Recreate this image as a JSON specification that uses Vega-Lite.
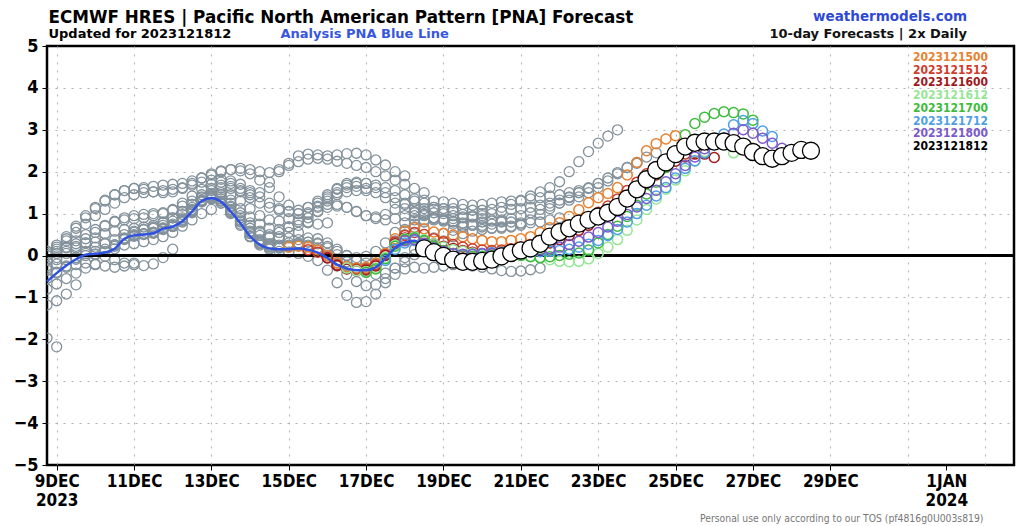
{
"$schema":"https://vega.github.io/schema/vega-lite/v6.json",
"width":967,"height":419,
"autosize":"none",
"padding":{"left":47,"top":46,"right":10,"bottom":61},
"background":"white",
"config":{"view":{"stroke":"#000","strokeWidth":2.5},"font":"DejaVu Sans"},
"title":{"text":"weathermodels.com","subtitle":"10-day Forecasts | 2x Daily","anchor":"end","frame":"group","dx":-47,"offset":-32,"font":"DejaVu Sans","fontSize":13.5,"fontWeight":"bold","color":"#2f49d6","subtitleFont":"DejaVu Sans","subtitleFontSize":13,"subtitleFontWeight":"bold","subtitleColor":"#111","subtitlePadding":5},
"datasets":{
"grey":[
{"t":"2023120818","v":-1.97},{"t":"2023120900","v":-2.18},
{"t":"2023120818","v":-1.18},{"t":"2023120900","v":-1.08},{"t":"2023120906","v":-0.92},{"t":"2023120912","v":-0.7},
{"t":"2023120818","v":-0.8},{"t":"2023120900","v":-0.68},{"t":"2023120906","v":-0.55},{"t":"2023120912","v":-0.42},{"t":"2023120918","v":-0.3},{"t":"2023121000","v":-0.22},
{"t":"2023120818","v":-0.55},{"t":"2023120900","v":-0.4},{"t":"2023120906","v":-0.28},{"t":"2023120912","v":-0.22},{"t":"2023120918","v":-0.18},{"t":"2023121000","v":-0.2},{"t":"2023121006","v":-0.25},{"t":"2023121012","v":-0.28},{"t":"2023121018","v":-0.25},{"t":"2023121100","v":-0.18},
{"t":"2023120818","v":-0.35},{"t":"2023120900","v":-0.2},{"t":"2023120906","v":-0.1},{"t":"2023120912","v":-0.05},{"t":"2023120918","v":0.0},{"t":"2023121000","v":0.02},{"t":"2023121006","v":-0.02},{"t":"2023121012","v":-0.1},{"t":"2023121018","v":-0.18},{"t":"2023121100","v":-0.22},{"t":"2023121106","v":-0.24},{"t":"2023121112","v":-0.2},{"t":"2023121118","v":-0.05},{"t":"2023121200","v":0.15},
{"t":"2023120818","v":-0.25},{"t":"2023120900","v":-0.05},{"t":"2023120906","v":0.1},{"t":"2023120912","v":0.22},{"t":"2023120918","v":0.3},{"t":"2023121000","v":0.32},{"t":"2023121006","v":0.3},{"t":"2023121012","v":0.26},{"t":"2023121018","v":0.25},{"t":"2023121100","v":0.28},{"t":"2023121106","v":0.33},{"t":"2023121112","v":0.38},{"t":"2023121118","v":0.45},{"t":"2023121200","v":0.55},{"t":"2023121206","v":0.7},{"t":"2023121212","v":0.85},{"t":"2023121218","v":1.0},{"t":"2023121300","v":1.1},
{"t":"2023120818","v":-0.1},{"t":"2023120900","v":0.05},{"t":"2023120906","v":0.2},{"t":"2023120912","v":0.35},{"t":"2023120918","v":0.5},{"t":"2023121000","v":0.62},{"t":"2023121006","v":0.72},{"t":"2023121012","v":0.8},{"t":"2023121018","v":0.85},{"t":"2023121100","v":0.88},{"t":"2023121106","v":0.9},{"t":"2023121112","v":0.95},{"t":"2023121118","v":1.0},{"t":"2023121200","v":1.1},{"t":"2023121206","v":1.25},{"t":"2023121212","v":1.42},{"t":"2023121218","v":1.58},{"t":"2023121300","v":1.7},{"t":"2023121306","v":1.75},{"t":"2023121312","v":1.72},{"t":"2023121318","v":1.6},{"t":"2023121400","v":1.45},
{"t":"2023120818","v":0.0},{"t":"2023120900","v":0.15},{"t":"2023120906","v":0.35},{"t":"2023120912","v":0.55},{"t":"2023120918","v":0.75},{"t":"2023121000","v":0.95},{"t":"2023121006","v":1.1},{"t":"2023121012","v":1.25},{"t":"2023121018","v":1.38},{"t":"2023121100","v":1.45},{"t":"2023121106","v":1.5},{"t":"2023121112","v":1.52},{"t":"2023121118","v":1.55},{"t":"2023121200","v":1.58},{"t":"2023121206","v":1.62},{"t":"2023121212","v":1.68},{"t":"2023121218","v":1.75},{"t":"2023121300","v":1.8},{"t":"2023121306","v":1.82},{"t":"2023121312","v":1.78},{"t":"2023121318","v":1.7},{"t":"2023121400","v":1.55},{"t":"2023121406","v":1.4},{"t":"2023121412","v":1.25},{"t":"2023121418","v":1.12},{"t":"2023121500","v":1.05},
{"t":"2023120818","v":0.1},{"t":"2023120900","v":0.25},{"t":"2023120906","v":0.45},{"t":"2023120912","v":0.7},{"t":"2023120918","v":0.95},{"t":"2023121000","v":1.15},{"t":"2023121006","v":1.32},{"t":"2023121012","v":1.45},{"t":"2023121018","v":1.55},{"t":"2023121100","v":1.6},{"t":"2023121106","v":1.58},{"t":"2023121112","v":1.52},{"t":"2023121118","v":1.5},{"t":"2023121200","v":1.52},{"t":"2023121206","v":1.6},{"t":"2023121212","v":1.72},{"t":"2023121218","v":1.85},{"t":"2023121300","v":1.95},{"t":"2023121306","v":2.02},{"t":"2023121312","v":2.05},{"t":"2023121318","v":2.02},{"t":"2023121400","v":1.95},{"t":"2023121406","v":1.8},{"t":"2023121412","v":1.62},{"t":"2023121418","v":1.4},{"t":"2023121500","v":1.2},{"t":"2023121506","v":1.0},{"t":"2023121512","v":0.8},{"t":"2023121518","v":0.75},{"t":"2023121600","v":0.78},
{"t":"2023120818","v":0.05},{"t":"2023120900","v":0.1},{"t":"2023120906","v":0.18},{"t":"2023120912","v":0.28},{"t":"2023120918","v":0.4},{"t":"2023121000","v":0.55},{"t":"2023121006","v":0.7},{"t":"2023121012","v":0.82},{"t":"2023121018","v":0.9},{"t":"2023121100","v":0.95},{"t":"2023121106","v":0.98},{"t":"2023121112","v":1.0},{"t":"2023121118","v":1.02},{"t":"2023121200","v":1.08},{"t":"2023121206","v":1.18},{"t":"2023121212","v":1.3},{"t":"2023121218","v":1.45},{"t":"2023121300","v":1.6},{"t":"2023121306","v":1.68},{"t":"2023121312","v":1.65},{"t":"2023121318","v":1.52},{"t":"2023121400","v":1.38},{"t":"2023121406","v":1.25},{"t":"2023121412","v":1.15},{"t":"2023121418","v":1.08},{"t":"2023121500","v":1.05},{"t":"2023121506","v":1.08},{"t":"2023121512","v":1.15},{"t":"2023121518","v":1.25},{"t":"2023121600","v":1.35},{"t":"2023121606","v":1.45},{"t":"2023121612","v":1.52},{"t":"2023121618","v":1.55},{"t":"2023121700","v":1.55},
{"t":"2023120818","v":-0.3},{"t":"2023120900","v":-0.1},{"t":"2023120906","v":0.05},{"t":"2023120912","v":0.18},{"t":"2023120918","v":0.3},{"t":"2023121000","v":0.42},{"t":"2023121006","v":0.52},{"t":"2023121012","v":0.58},{"t":"2023121018","v":0.62},{"t":"2023121100","v":0.65},{"t":"2023121106","v":0.68},{"t":"2023121112","v":0.72},{"t":"2023121118","v":0.8},{"t":"2023121200","v":0.9},{"t":"2023121206","v":1.05},{"t":"2023121212","v":1.22},{"t":"2023121218","v":1.4},{"t":"2023121300","v":1.55},{"t":"2023121306","v":1.62},{"t":"2023121312","v":1.6},{"t":"2023121318","v":1.55},{"t":"2023121400","v":1.5},{"t":"2023121406","v":1.5},{"t":"2023121412","v":1.75},{"t":"2023121418","v":2.0},{"t":"2023121500","v":2.2},{"t":"2023121506","v":2.38},{"t":"2023121512","v":2.42},{"t":"2023121518","v":2.4},{"t":"2023121600","v":2.38},{"t":"2023121606","v":2.4},{"t":"2023121612","v":2.43},{"t":"2023121618","v":2.44},{"t":"2023121700","v":2.4},{"t":"2023121706","v":2.28},{"t":"2023121712","v":2.16},{"t":"2023121718","v":2.0},{"t":"2023121800","v":1.9},
{"t":"2023120818","v":0.1},{"t":"2023120900","v":0.2},{"t":"2023120906","v":0.4},{"t":"2023120912","v":0.65},{"t":"2023120918","v":0.9},{"t":"2023121000","v":1.12},{"t":"2023121006","v":1.3},{"t":"2023121012","v":1.45},{"t":"2023121018","v":1.55},{"t":"2023121100","v":1.6},{"t":"2023121106","v":1.62},{"t":"2023121112","v":1.65},{"t":"2023121118","v":1.68},{"t":"2023121200","v":1.7},{"t":"2023121206","v":1.72},{"t":"2023121212","v":1.78},{"t":"2023121218","v":1.85},{"t":"2023121300","v":1.92},{"t":"2023121306","v":2.0},{"t":"2023121312","v":2.05},{"t":"2023121318","v":2.08},{"t":"2023121400","v":2.05},{"t":"2023121406","v":2.0},{"t":"2023121412","v":1.98},{"t":"2023121418","v":2.05},{"t":"2023121500","v":2.15},{"t":"2023121506","v":2.24},{"t":"2023121512","v":2.3},{"t":"2023121518","v":2.32},{"t":"2023121600","v":2.3},{"t":"2023121606","v":2.25},{"t":"2023121612","v":2.2},{"t":"2023121618","v":2.15},{"t":"2023121700","v":2.1},{"t":"2023121706","v":2.0},{"t":"2023121712","v":1.9},{"t":"2023121718","v":1.8},{"t":"2023121800","v":1.7},{"t":"2023121806","v":1.6},{"t":"2023121812","v":1.5},
{"t":"2023120900","v":-0.42},{"t":"2023120906","v":-0.25},{"t":"2023120912","v":-0.05},{"t":"2023120918","v":0.1},{"t":"2023121000","v":0.2},{"t":"2023121006","v":0.28},{"t":"2023121012","v":0.38},{"t":"2023121018","v":0.5},{"t":"2023121100","v":0.58},{"t":"2023121106","v":0.62},{"t":"2023121112","v":0.65},{"t":"2023121118","v":0.72},{"t":"2023121200","v":0.82},{"t":"2023121206","v":0.98},{"t":"2023121212","v":1.15},{"t":"2023121218","v":1.32},{"t":"2023121300","v":1.45},{"t":"2023121306","v":1.5},{"t":"2023121312","v":1.45},{"t":"2023121318","v":1.3},{"t":"2023121400","v":1.12},{"t":"2023121406","v":0.95},{"t":"2023121412","v":0.85},{"t":"2023121418","v":0.82},{"t":"2023121500","v":0.88},{"t":"2023121506","v":1.0},{"t":"2023121512","v":1.15},{"t":"2023121518","v":1.3},{"t":"2023121600","v":1.45},{"t":"2023121606","v":1.58},{"t":"2023121612","v":1.68},{"t":"2023121618","v":1.72},{"t":"2023121700","v":1.72},{"t":"2023121706","v":1.68},{"t":"2023121712","v":1.62},{"t":"2023121718","v":1.55},{"t":"2023121800","v":1.45},{"t":"2023121806","v":1.35},{"t":"2023121812","v":1.25},{"t":"2023121818","v":1.15},{"t":"2023121900","v":1.05},
{"t":"2023120912","v":-0.09},{"t":"2023120918","v":0.05},{"t":"2023121000","v":0.1},{"t":"2023121006","v":0.15},{"t":"2023121012","v":0.25},{"t":"2023121018","v":0.42},{"t":"2023121100","v":0.55},{"t":"2023121106","v":0.62},{"t":"2023121112","v":0.68},{"t":"2023121118","v":0.78},{"t":"2023121200","v":0.9},{"t":"2023121206","v":1.05},{"t":"2023121212","v":1.22},{"t":"2023121218","v":1.38},{"t":"2023121300","v":1.48},{"t":"2023121306","v":1.45},{"t":"2023121312","v":1.32},{"t":"2023121318","v":1.12},{"t":"2023121400","v":0.92},{"t":"2023121406","v":0.75},{"t":"2023121412","v":0.65},{"t":"2023121418","v":0.62},{"t":"2023121500","v":0.68},{"t":"2023121506","v":0.8},{"t":"2023121512","v":0.98},{"t":"2023121518","v":1.18},{"t":"2023121600","v":1.4},{"t":"2023121606","v":1.6},{"t":"2023121612","v":1.72},{"t":"2023121618","v":1.75},{"t":"2023121700","v":1.72},{"t":"2023121706","v":1.62},{"t":"2023121712","v":1.5},{"t":"2023121718","v":1.38},{"t":"2023121800","v":1.25},{"t":"2023121806","v":1.12},{"t":"2023121812","v":1.0},{"t":"2023121818","v":0.9},{"t":"2023121900","v":0.82},{"t":"2023121906","v":0.75},{"t":"2023121912","v":0.7},
{"t":"2023121000","v":0.04},{"t":"2023121006","v":0.1},{"t":"2023121012","v":0.22},{"t":"2023121018","v":0.4},{"t":"2023121100","v":0.5},{"t":"2023121106","v":0.52},{"t":"2023121112","v":0.55},{"t":"2023121118","v":0.65},{"t":"2023121200","v":0.75},{"t":"2023121206","v":0.9},{"t":"2023121212","v":1.1},{"t":"2023121218","v":1.3},{"t":"2023121300","v":1.42},{"t":"2023121306","v":1.4},{"t":"2023121312","v":1.25},{"t":"2023121318","v":1.02},{"t":"2023121400","v":0.78},{"t":"2023121406","v":0.58},{"t":"2023121412","v":0.45},{"t":"2023121418","v":0.4},{"t":"2023121500","v":0.42},{"t":"2023121506","v":0.55},{"t":"2023121512","v":0.78},{"t":"2023121518","v":1.05},{"t":"2023121600","v":1.3},{"t":"2023121606","v":1.5},{"t":"2023121612","v":1.62},{"t":"2023121618","v":1.65},{"t":"2023121700","v":1.6},{"t":"2023121706","v":1.5},{"t":"2023121712","v":1.38},{"t":"2023121718","v":1.25},{"t":"2023121800","v":1.12},{"t":"2023121806","v":1.02},{"t":"2023121812","v":0.95},{"t":"2023121818","v":0.9},{"t":"2023121900","v":0.88},{"t":"2023121906","v":0.88},{"t":"2023121912","v":0.9},{"t":"2023121918","v":0.95},{"t":"2023122000","v":1.0},
{"t":"2023121012","v":0.16},{"t":"2023121018","v":0.38},{"t":"2023121100","v":0.46},{"t":"2023121106","v":0.5},{"t":"2023121112","v":0.54},{"t":"2023121118","v":0.64},{"t":"2023121200","v":0.72},{"t":"2023121206","v":0.86},{"t":"2023121212","v":1.08},{"t":"2023121218","v":1.32},{"t":"2023121300","v":1.42},{"t":"2023121306","v":1.35},{"t":"2023121312","v":1.15},{"t":"2023121318","v":0.9},{"t":"2023121400","v":0.65},{"t":"2023121406","v":0.48},{"t":"2023121412","v":0.42},{"t":"2023121418","v":0.45},{"t":"2023121500","v":0.55},{"t":"2023121506","v":0.72},{"t":"2023121512","v":0.9},{"t":"2023121518","v":1.05},{"t":"2023121600","v":1.15},{"t":"2023121606","v":1.18},{"t":"2023121612","v":1.15},{"t":"2023121618","v":1.05},{"t":"2023121700","v":0.95},{"t":"2023121706","v":0.88},{"t":"2023121712","v":0.85},{"t":"2023121718","v":0.88},{"t":"2023121800","v":0.95},{"t":"2023121806","v":1.05},{"t":"2023121812","v":1.12},{"t":"2023121818","v":1.15},{"t":"2023121900","v":1.12},{"t":"2023121906","v":1.05},{"t":"2023121912","v":0.98},{"t":"2023121918","v":0.92},{"t":"2023122000","v":0.88},{"t":"2023122006","v":0.85},{"t":"2023122012","v":0.85},
{"t":"2023121100","v":0.48},{"t":"2023121106","v":0.52},{"t":"2023121112","v":0.56},{"t":"2023121118","v":0.66},{"t":"2023121200","v":0.7},{"t":"2023121206","v":0.84},{"t":"2023121212","v":1.06},{"t":"2023121218","v":1.3},{"t":"2023121300","v":1.38},{"t":"2023121306","v":1.3},{"t":"2023121312","v":1.08},{"t":"2023121318","v":0.82},{"t":"2023121400","v":0.55},{"t":"2023121406","v":0.35},{"t":"2023121412","v":0.25},{"t":"2023121418","v":0.22},{"t":"2023121500","v":0.25},{"t":"2023121506","v":0.3},{"t":"2023121512","v":0.32},{"t":"2023121518","v":0.28},{"t":"2023121600","v":0.18},{"t":"2023121606","v":0.02},{"t":"2023121612","v":-0.15},{"t":"2023121618","v":-0.3},{"t":"2023121700","v":-0.4},{"t":"2023121706","v":-0.45},{"t":"2023121712","v":-0.42},{"t":"2023121718","v":-0.3},{"t":"2023121800","v":-0.15},{"t":"2023121806","v":0.02},{"t":"2023121812","v":0.15},{"t":"2023121818","v":0.25},{"t":"2023121900","v":0.35},{"t":"2023121906","v":0.45},{"t":"2023121912","v":0.52},{"t":"2023121918","v":0.58},{"t":"2023122000","v":0.62},{"t":"2023122006","v":0.65},{"t":"2023122012","v":0.68},{"t":"2023122018","v":0.7},{"t":"2023122100","v":0.72},
{"t":"2023121112","v":0.53},{"t":"2023121118","v":0.62},{"t":"2023121200","v":0.7},{"t":"2023121206","v":0.82},{"t":"2023121212","v":1.05},{"t":"2023121218","v":1.28},{"t":"2023121300","v":1.36},{"t":"2023121306","v":1.25},{"t":"2023121312","v":1.02},{"t":"2023121318","v":0.75},{"t":"2023121400","v":0.45},{"t":"2023121406","v":0.25},{"t":"2023121412","v":0.15},{"t":"2023121418","v":0.1},{"t":"2023121500","v":0.08},{"t":"2023121506","v":0.05},{"t":"2023121512","v":-0.02},{"t":"2023121518","v":-0.12},{"t":"2023121600","v":-0.35},{"t":"2023121606","v":-0.65},{"t":"2023121612","v":-0.95},{"t":"2023121618","v":-1.12},{"t":"2023121700","v":-1.1},{"t":"2023121706","v":-0.92},{"t":"2023121712","v":-0.65},{"t":"2023121718","v":-0.45},{"t":"2023121800","v":-0.32},{"t":"2023121806","v":-0.28},{"t":"2023121812","v":-0.3},{"t":"2023121818","v":-0.28},{"t":"2023121900","v":-0.25},{"t":"2023121906","v":-0.22},{"t":"2023121912","v":-0.22},{"t":"2023121918","v":-0.25},{"t":"2023122000","v":-0.28},{"t":"2023122006","v":-0.32},{"t":"2023122012","v":-0.36},{"t":"2023122018","v":-0.38},{"t":"2023122100","v":-0.37},{"t":"2023122106","v":-0.34},{"t":"2023122112","v":-0.3},
{"t":"2023121200","v":0.69},{"t":"2023121206","v":0.8},{"t":"2023121212","v":1.02},{"t":"2023121218","v":1.28},{"t":"2023121300","v":1.35},{"t":"2023121306","v":1.25},{"t":"2023121312","v":1.0},{"t":"2023121318","v":0.72},{"t":"2023121400","v":0.45},{"t":"2023121406","v":0.28},{"t":"2023121412","v":0.2},{"t":"2023121418","v":0.18},{"t":"2023121500","v":0.2},{"t":"2023121506","v":0.24},{"t":"2023121512","v":0.22},{"t":"2023121518","v":0.12},{"t":"2023121600","v":-0.05},{"t":"2023121606","v":-0.25},{"t":"2023121612","v":-0.45},{"t":"2023121618","v":-0.62},{"t":"2023121700","v":-0.72},{"t":"2023121706","v":-0.7},{"t":"2023121712","v":-0.55},{"t":"2023121718","v":-0.3},{"t":"2023121800","v":-0.05},{"t":"2023121806","v":0.15},{"t":"2023121812","v":0.3},{"t":"2023121818","v":0.42},{"t":"2023121900","v":0.52},{"t":"2023121906","v":0.6},{"t":"2023121912","v":0.68},{"t":"2023121918","v":0.75},{"t":"2023122000","v":0.8},{"t":"2023122006","v":0.82},{"t":"2023122012","v":0.82},{"t":"2023122018","v":0.8},{"t":"2023122100","v":0.78},{"t":"2023122106","v":0.78},{"t":"2023122112","v":0.8},{"t":"2023122118","v":0.85},{"t":"2023122200","v":0.9},
{"t":"2023121212","v":1.05},{"t":"2023121218","v":1.3},{"t":"2023121300","v":1.4},{"t":"2023121306","v":1.35},{"t":"2023121312","v":1.18},{"t":"2023121318","v":0.95},{"t":"2023121400","v":0.72},{"t":"2023121406","v":0.55},{"t":"2023121412","v":0.5},{"t":"2023121418","v":0.55},{"t":"2023121500","v":0.68},{"t":"2023121506","v":0.85},{"t":"2023121512","v":1.02},{"t":"2023121518","v":1.15},{"t":"2023121600","v":1.22},{"t":"2023121606","v":1.22},{"t":"2023121612","v":1.15},{"t":"2023121618","v":1.05},{"t":"2023121700","v":0.95},{"t":"2023121706","v":0.92},{"t":"2023121712","v":0.98},{"t":"2023121718","v":1.1},{"t":"2023121800","v":1.22},{"t":"2023121806","v":1.3},{"t":"2023121812","v":1.32},{"t":"2023121818","v":1.3},{"t":"2023121900","v":1.28},{"t":"2023121906","v":1.25},{"t":"2023121912","v":1.22},{"t":"2023121918","v":1.2},{"t":"2023122000","v":1.22},{"t":"2023122006","v":1.25},{"t":"2023122012","v":1.28},{"t":"2023122018","v":1.3},{"t":"2023122100","v":1.32},{"t":"2023122106","v":1.35},{"t":"2023122112","v":1.38},{"t":"2023122118","v":1.42},{"t":"2023122200","v":1.45},{"t":"2023122206","v":1.5},{"t":"2023122212","v":1.55},
{"t":"2023121300","v":1.37},{"t":"2023121306","v":1.3},{"t":"2023121312","v":1.1},{"t":"2023121318","v":0.85},{"t":"2023121400","v":0.58},{"t":"2023121406","v":0.38},{"t":"2023121412","v":0.28},{"t":"2023121418","v":0.25},{"t":"2023121500","v":0.3},{"t":"2023121506","v":0.38},{"t":"2023121512","v":0.42},{"t":"2023121518","v":0.4},{"t":"2023121600","v":0.3},{"t":"2023121606","v":0.15},{"t":"2023121612","v":0.0},{"t":"2023121618","v":-0.12},{"t":"2023121700","v":-0.18},{"t":"2023121706","v":-0.12},{"t":"2023121712","v":0.05},{"t":"2023121718","v":0.28},{"t":"2023121800","v":0.5},{"t":"2023121806","v":0.68},{"t":"2023121812","v":0.8},{"t":"2023121818","v":0.85},{"t":"2023121900","v":0.85},{"t":"2023121906","v":0.82},{"t":"2023121912","v":0.78},{"t":"2023121918","v":0.72},{"t":"2023122000","v":0.68},{"t":"2023122006","v":0.65},{"t":"2023122012","v":0.65},{"t":"2023122018","v":0.68},{"t":"2023122100","v":0.75},{"t":"2023122106","v":0.85},{"t":"2023122112","v":0.98},{"t":"2023122118","v":1.12},{"t":"2023122200","v":1.25},{"t":"2023122206","v":1.38},{"t":"2023122212","v":1.5},{"t":"2023122218","v":1.62},{"t":"2023122300","v":1.72},
{"t":"2023121312","v":1.05},{"t":"2023121318","v":0.8},{"t":"2023121400","v":0.52},{"t":"2023121406","v":0.32},{"t":"2023121412","v":0.22},{"t":"2023121418","v":0.2},{"t":"2023121500","v":0.22},{"t":"2023121506","v":0.28},{"t":"2023121512","v":0.32},{"t":"2023121518","v":0.3},{"t":"2023121600","v":0.22},{"t":"2023121606","v":0.1},{"t":"2023121612","v":0.0},{"t":"2023121618","v":-0.05},{"t":"2023121700","v":-0.02},{"t":"2023121706","v":0.1},{"t":"2023121712","v":0.3},{"t":"2023121718","v":0.55},{"t":"2023121800","v":0.78},{"t":"2023121806","v":0.95},{"t":"2023121812","v":1.05},{"t":"2023121818","v":1.1},{"t":"2023121900","v":1.12},{"t":"2023121906","v":1.12},{"t":"2023121912","v":1.1},{"t":"2023121918","v":1.08},{"t":"2023122000","v":1.08},{"t":"2023122006","v":1.1},{"t":"2023122012","v":1.15},{"t":"2023122018","v":1.22},{"t":"2023122100","v":1.3},{"t":"2023122106","v":1.42},{"t":"2023122112","v":1.52},{"t":"2023122118","v":1.62},{"t":"2023122200","v":1.76},{"t":"2023122206","v":2.0},{"t":"2023122212","v":2.24},{"t":"2023122218","v":2.48},{"t":"2023122300","v":2.68},{"t":"2023122306","v":2.85},{"t":"2023122312","v":3.0},
{"t":"2023121400","v":0.46},{"t":"2023121406","v":0.3},{"t":"2023121412","v":0.22},{"t":"2023121418","v":0.2},{"t":"2023121500","v":0.22},{"t":"2023121506","v":0.26},{"t":"2023121512","v":0.25},{"t":"2023121518","v":0.18},{"t":"2023121600","v":0.05},{"t":"2023121606","v":-0.12},{"t":"2023121612","v":-0.25},{"t":"2023121618","v":-0.32},{"t":"2023121700","v":-0.3},{"t":"2023121706","v":-0.18},{"t":"2023121712","v":0.05},{"t":"2023121718","v":0.35},{"t":"2023121800","v":0.62},{"t":"2023121806","v":0.85},{"t":"2023121812","v":0.98},{"t":"2023121818","v":1.02},{"t":"2023121900","v":1.0},{"t":"2023121906","v":0.95},{"t":"2023121912","v":0.92},{"t":"2023121918","v":0.92},{"t":"2023122000","v":0.95},{"t":"2023122006","v":1.0},{"t":"2023122012","v":1.05},{"t":"2023122018","v":1.1},{"t":"2023122100","v":1.12},{"t":"2023122106","v":1.15},{"t":"2023122112","v":1.2},{"t":"2023122118","v":1.25},{"t":"2023122200","v":1.32},{"t":"2023122206","v":1.4},{"t":"2023122212","v":1.5},{"t":"2023122218","v":1.6},{"t":"2023122300","v":1.72},{"t":"2023122306","v":1.85},{"t":"2023122312","v":1.98},{"t":"2023122318","v":2.1},{"t":"2023122400","v":2.2},
{"t":"2023121412","v":0.17},{"t":"2023121418","v":0.18},{"t":"2023121500","v":0.22},{"t":"2023121506","v":0.25},{"t":"2023121512","v":0.22},{"t":"2023121518","v":0.14},{"t":"2023121600","v":0.0},{"t":"2023121606","v":-0.18},{"t":"2023121612","v":-0.3},{"t":"2023121618","v":-0.36},{"t":"2023121700","v":-0.34},{"t":"2023121706","v":-0.22},{"t":"2023121712","v":0.02},{"t":"2023121718","v":0.32},{"t":"2023121800","v":0.58},{"t":"2023121806","v":0.75},{"t":"2023121812","v":0.85},{"t":"2023121818","v":0.88},{"t":"2023121900","v":0.85},{"t":"2023121906","v":0.8},{"t":"2023121912","v":0.75},{"t":"2023121918","v":0.72},{"t":"2023122000","v":0.72},{"t":"2023122006","v":0.75},{"t":"2023122012","v":0.8},{"t":"2023122018","v":0.88},{"t":"2023122100","v":0.95},{"t":"2023122106","v":1.02},{"t":"2023122112","v":1.1},{"t":"2023122118","v":1.18},{"t":"2023122200","v":1.25},{"t":"2023122206","v":1.32},{"t":"2023122212","v":1.4},{"t":"2023122218","v":1.5},{"t":"2023122300","v":1.62},{"t":"2023122306","v":1.78},{"t":"2023122312","v":1.95},{"t":"2023122318","v":2.1},{"t":"2023122400","v":2.22},{"t":"2023122406","v":2.35},{"t":"2023122412","v":2.45}
],
"analysis":[
{"t":"2023120818","v":-0.62},{"t":"2023120900","v":-0.42},{"t":"2023120906","v":-0.24},{"t":"2023120912","v":-0.09},{"t":"2023120918","v":0.02},{"t":"2023121000","v":0.04},{"t":"2023121006","v":0.07},{"t":"2023121012","v":0.16},{"t":"2023121018","v":0.4},{"t":"2023121100","v":0.48},{"t":"2023121106","v":0.5},{"t":"2023121112","v":0.53},{"t":"2023121118","v":0.64},{"t":"2023121200","v":0.69},{"t":"2023121206","v":0.82},{"t":"2023121212","v":1.05},{"t":"2023121218","v":1.3},{"t":"2023121300","v":1.37},{"t":"2023121306","v":1.28},{"t":"2023121312","v":1.05},{"t":"2023121318","v":0.77},{"t":"2023121400","v":0.46},{"t":"2023121406","v":0.26},{"t":"2023121412","v":0.17},{"t":"2023121418","v":0.15},{"t":"2023121500","v":0.15},{"t":"2023121506","v":0.17},{"t":"2023121512","v":0.14},{"t":"2023121518","v":0.07},{"t":"2023121600","v":-0.06},{"t":"2023121606","v":-0.22},{"t":"2023121612","v":-0.31},{"t":"2023121618","v":-0.35},{"t":"2023121700","v":-0.35},{"t":"2023121706","v":-0.28},{"t":"2023121712","v":-0.07},{"t":"2023121718","v":0.18},{"t":"2023121800","v":0.31},{"t":"2023121806","v":0.35},{"t":"2023121812","v":0.17}
],
"runs":[
{"r":"2023121500","t":"2023121500","v":0.2},{"r":"2023121500","t":"2023121506","v":0.22},{"r":"2023121500","t":"2023121512","v":0.2},{"r":"2023121500","t":"2023121518","v":0.13},{"r":"2023121500","t":"2023121600","v":0.0},{"r":"2023121500","t":"2023121606","v":-0.17},{"r":"2023121500","t":"2023121612","v":-0.27},{"r":"2023121500","t":"2023121618","v":-0.3},{"r":"2023121500","t":"2023121700","v":-0.28},{"r":"2023121500","t":"2023121706","v":-0.18},{"r":"2023121500","t":"2023121712","v":0.05},{"r":"2023121500","t":"2023121718","v":0.4},{"r":"2023121500","t":"2023121800","v":0.58},{"r":"2023121500","t":"2023121806","v":0.66},{"r":"2023121500","t":"2023121812","v":0.64},{"r":"2023121500","t":"2023121818","v":0.56},{"r":"2023121500","t":"2023121900","v":0.53},{"r":"2023121500","t":"2023121906","v":0.49},{"r":"2023121500","t":"2023121912","v":0.45},{"r":"2023121500","t":"2023121918","v":0.4},{"r":"2023121500","t":"2023122000","v":0.36},{"r":"2023121500","t":"2023122006","v":0.33},{"r":"2023121500","t":"2023122012","v":0.33},{"r":"2023121500","t":"2023122018","v":0.36},{"r":"2023121500","t":"2023122100","v":0.4},{"r":"2023121500","t":"2023122106","v":0.45},{"r":"2023121500","t":"2023122112","v":0.55},{"r":"2023121500","t":"2023122118","v":0.66},{"r":"2023121500","t":"2023122200","v":0.78},{"r":"2023121500","t":"2023122206","v":0.93},{"r":"2023121500","t":"2023122212","v":1.09},{"r":"2023121500","t":"2023122218","v":1.26},{"r":"2023121500","t":"2023122300","v":1.38},{"r":"2023121500","t":"2023122306","v":1.48},{"r":"2023121500","t":"2023122312","v":1.62},{"r":"2023121500","t":"2023122318","v":1.92},{"r":"2023121500","t":"2023122400","v":2.22},{"r":"2023121500","t":"2023122406","v":2.5},{"r":"2023121500","t":"2023122412","v":2.67},{"r":"2023121500","t":"2023122418","v":2.78},{"r":"2023121500","t":"2023122500","v":2.86},
{"r":"2023121512","t":"2023121512","v":0.14},{"r":"2023121512","t":"2023121518","v":0.08},{"r":"2023121512","t":"2023121600","v":-0.05},{"r":"2023121512","t":"2023121606","v":-0.22},{"r":"2023121512","t":"2023121612","v":-0.31},{"r":"2023121512","t":"2023121618","v":-0.33},{"r":"2023121512","t":"2023121700","v":-0.32},{"r":"2023121512","t":"2023121706","v":-0.22},{"r":"2023121512","t":"2023121712","v":0.02},{"r":"2023121512","t":"2023121718","v":0.32},{"r":"2023121512","t":"2023121800","v":0.48},{"r":"2023121512","t":"2023121806","v":0.55},{"r":"2023121512","t":"2023121812","v":0.5},{"r":"2023121512","t":"2023121818","v":0.4},{"r":"2023121512","t":"2023121900","v":0.33},{"r":"2023121512","t":"2023121906","v":0.26},{"r":"2023121512","t":"2023121912","v":0.2},{"r":"2023121512","t":"2023121918","v":0.16},{"r":"2023121512","t":"2023122000","v":0.13},{"r":"2023121512","t":"2023122006","v":0.12},{"r":"2023121512","t":"2023122012","v":0.13},{"r":"2023121512","t":"2023122018","v":0.16},{"r":"2023121512","t":"2023122100","v":0.2},{"r":"2023121512","t":"2023122106","v":0.26},{"r":"2023121512","t":"2023122112","v":0.34},{"r":"2023121512","t":"2023122118","v":0.44},{"r":"2023121512","t":"2023122200","v":0.55},{"r":"2023121512","t":"2023122206","v":0.66},{"r":"2023121512","t":"2023122212","v":0.78},{"r":"2023121512","t":"2023122218","v":0.9},{"r":"2023121512","t":"2023122300","v":1.03},{"r":"2023121512","t":"2023122306","v":1.18},{"r":"2023121512","t":"2023122312","v":1.35},{"r":"2023121512","t":"2023122318","v":1.55},{"r":"2023121512","t":"2023122400","v":1.75},{"r":"2023121512","t":"2023122406","v":1.95},{"r":"2023121512","t":"2023122412","v":2.12},{"r":"2023121512","t":"2023122418","v":2.26},{"r":"2023121512","t":"2023122500","v":2.36},{"r":"2023121512","t":"2023122506","v":2.42},{"r":"2023121512","t":"2023122512","v":2.45},
{"r":"2023121600","t":"2023121600","v":-0.06},{"r":"2023121600","t":"2023121606","v":-0.24},{"r":"2023121600","t":"2023121612","v":-0.32},{"r":"2023121600","t":"2023121618","v":-0.36},{"r":"2023121600","t":"2023121700","v":-0.35},{"r":"2023121600","t":"2023121706","v":-0.25},{"r":"2023121600","t":"2023121712","v":0.0},{"r":"2023121600","t":"2023121718","v":0.28},{"r":"2023121600","t":"2023121800","v":0.42},{"r":"2023121600","t":"2023121806","v":0.45},{"r":"2023121600","t":"2023121812","v":0.36},{"r":"2023121600","t":"2023121818","v":0.28},{"r":"2023121600","t":"2023121900","v":0.22},{"r":"2023121600","t":"2023121906","v":0.17},{"r":"2023121600","t":"2023121912","v":0.12},{"r":"2023121600","t":"2023121918","v":0.08},{"r":"2023121600","t":"2023122000","v":0.05},{"r":"2023121600","t":"2023122006","v":0.04},{"r":"2023121600","t":"2023122012","v":0.05},{"r":"2023121600","t":"2023122018","v":0.08},{"r":"2023121600","t":"2023122100","v":0.12},{"r":"2023121600","t":"2023122106","v":0.16},{"r":"2023121600","t":"2023122112","v":0.22},{"r":"2023121600","t":"2023122118","v":0.3},{"r":"2023121600","t":"2023122200","v":0.38},{"r":"2023121600","t":"2023122206","v":0.48},{"r":"2023121600","t":"2023122212","v":0.6},{"r":"2023121600","t":"2023122218","v":0.72},{"r":"2023121600","t":"2023122300","v":0.86},{"r":"2023121600","t":"2023122306","v":1.0},{"r":"2023121600","t":"2023122312","v":1.15},{"r":"2023121600","t":"2023122318","v":1.33},{"r":"2023121600","t":"2023122400","v":1.52},{"r":"2023121600","t":"2023122406","v":1.72},{"r":"2023121600","t":"2023122412","v":1.92},{"r":"2023121600","t":"2023122418","v":2.1},{"r":"2023121600","t":"2023122500","v":2.25},{"r":"2023121600","t":"2023122506","v":2.35},{"r":"2023121600","t":"2023122512","v":2.42},{"r":"2023121600","t":"2023122518","v":2.42},{"r":"2023121600","t":"2023122600","v":2.34},
{"r":"2023121612","t":"2023121612","v":-0.3},{"r":"2023121612","t":"2023121618","v":-0.36},{"r":"2023121612","t":"2023121700","v":-0.38},{"r":"2023121612","t":"2023121706","v":-0.3},{"r":"2023121612","t":"2023121712","v":-0.05},{"r":"2023121612","t":"2023121718","v":0.25},{"r":"2023121612","t":"2023121800","v":0.4},{"r":"2023121612","t":"2023121806","v":0.45},{"r":"2023121612","t":"2023121812","v":0.38},{"r":"2023121612","t":"2023121818","v":0.28},{"r":"2023121612","t":"2023121900","v":0.2},{"r":"2023121612","t":"2023121906","v":0.14},{"r":"2023121612","t":"2023121912","v":0.1},{"r":"2023121612","t":"2023121918","v":0.06},{"r":"2023121612","t":"2023122000","v":0.03},{"r":"2023121612","t":"2023122006","v":0.01},{"r":"2023121612","t":"2023122012","v":0.0},{"r":"2023121612","t":"2023122018","v":0.0},{"r":"2023121612","t":"2023122100","v":0.0},{"r":"2023121612","t":"2023122106","v":-0.02},{"r":"2023121612","t":"2023122112","v":-0.06},{"r":"2023121612","t":"2023122118","v":-0.1},{"r":"2023121612","t":"2023122200","v":-0.14},{"r":"2023121612","t":"2023122206","v":-0.15},{"r":"2023121612","t":"2023122212","v":-0.14},{"r":"2023121612","t":"2023122218","v":-0.08},{"r":"2023121612","t":"2023122300","v":0.05},{"r":"2023121612","t":"2023122306","v":0.2},{"r":"2023121612","t":"2023122312","v":0.38},{"r":"2023121612","t":"2023122318","v":0.6},{"r":"2023121612","t":"2023122400","v":0.85},{"r":"2023121612","t":"2023122406","v":1.1},{"r":"2023121612","t":"2023122412","v":1.35},{"r":"2023121612","t":"2023122418","v":1.58},{"r":"2023121612","t":"2023122500","v":1.8},{"r":"2023121612","t":"2023122506","v":2.02},{"r":"2023121612","t":"2023122512","v":2.25},{"r":"2023121612","t":"2023122518","v":2.48},{"r":"2023121612","t":"2023122600","v":2.66},{"r":"2023121612","t":"2023122606","v":2.7},{"r":"2023121612","t":"2023122612","v":2.45},
{"r":"2023121700","t":"2023121700","v":-0.4},{"r":"2023121700","t":"2023121706","v":-0.32},{"r":"2023121700","t":"2023121712","v":-0.08},{"r":"2023121700","t":"2023121718","v":0.22},{"r":"2023121700","t":"2023121800","v":0.38},{"r":"2023121700","t":"2023121806","v":0.42},{"r":"2023121700","t":"2023121812","v":0.35},{"r":"2023121700","t":"2023121818","v":0.22},{"r":"2023121700","t":"2023121900","v":0.12},{"r":"2023121700","t":"2023121906","v":0.05},{"r":"2023121700","t":"2023121912","v":0.0},{"r":"2023121700","t":"2023121918","v":-0.02},{"r":"2023121700","t":"2023122000","v":-0.02},{"r":"2023121700","t":"2023122006","v":0.0},{"r":"2023121700","t":"2023122012","v":0.02},{"r":"2023121700","t":"2023122018","v":0.02},{"r":"2023121700","t":"2023122100","v":0.0},{"r":"2023121700","t":"2023122106","v":-0.03},{"r":"2023121700","t":"2023122112","v":-0.05},{"r":"2023121700","t":"2023122118","v":-0.03},{"r":"2023121700","t":"2023122200","v":0.0},{"r":"2023121700","t":"2023122206","v":0.03},{"r":"2023121700","t":"2023122212","v":0.06},{"r":"2023121700","t":"2023122218","v":0.13},{"r":"2023121700","t":"2023122300","v":0.3},{"r":"2023121700","t":"2023122306","v":0.5},{"r":"2023121700","t":"2023122312","v":0.7},{"r":"2023121700","t":"2023122318","v":0.93},{"r":"2023121700","t":"2023122400","v":1.2},{"r":"2023121700","t":"2023122406","v":1.47},{"r":"2023121700","t":"2023122412","v":1.75},{"r":"2023121700","t":"2023122418","v":2.1},{"r":"2023121700","t":"2023122500","v":2.5},{"r":"2023121700","t":"2023122506","v":2.88},{"r":"2023121700","t":"2023122512","v":3.15},{"r":"2023121700","t":"2023122518","v":3.3},{"r":"2023121700","t":"2023122600","v":3.39},{"r":"2023121700","t":"2023122606","v":3.43},{"r":"2023121700","t":"2023122612","v":3.41},{"r":"2023121700","t":"2023122618","v":3.38},{"r":"2023121700","t":"2023122700","v":3.23},
{"r":"2023121712","t":"2023121712","v":-0.12},{"r":"2023121712","t":"2023121718","v":0.15},{"r":"2023121712","t":"2023121800","v":0.3},{"r":"2023121712","t":"2023121806","v":0.36},{"r":"2023121712","t":"2023121812","v":0.28},{"r":"2023121712","t":"2023121818","v":0.16},{"r":"2023121712","t":"2023121900","v":0.08},{"r":"2023121712","t":"2023121906","v":0.04},{"r":"2023121712","t":"2023121912","v":0.02},{"r":"2023121712","t":"2023121918","v":0.03},{"r":"2023121712","t":"2023122000","v":0.05},{"r":"2023121712","t":"2023122006","v":0.07},{"r":"2023121712","t":"2023122012","v":0.08},{"r":"2023121712","t":"2023122018","v":0.08},{"r":"2023121712","t":"2023122100","v":0.08},{"r":"2023121712","t":"2023122106","v":0.08},{"r":"2023121712","t":"2023122112","v":0.09},{"r":"2023121712","t":"2023122118","v":0.1},{"r":"2023121712","t":"2023122200","v":0.12},{"r":"2023121712","t":"2023122206","v":0.15},{"r":"2023121712","t":"2023122212","v":0.2},{"r":"2023121712","t":"2023122218","v":0.27},{"r":"2023121712","t":"2023122300","v":0.36},{"r":"2023121712","t":"2023122306","v":0.48},{"r":"2023121712","t":"2023122312","v":0.62},{"r":"2023121712","t":"2023122318","v":0.8},{"r":"2023121712","t":"2023122400","v":1.0},{"r":"2023121712","t":"2023122406","v":1.2},{"r":"2023121712","t":"2023122412","v":1.42},{"r":"2023121712","t":"2023122418","v":1.62},{"r":"2023121712","t":"2023122500","v":1.85},{"r":"2023121712","t":"2023122506","v":2.08},{"r":"2023121712","t":"2023122512","v":2.26},{"r":"2023121712","t":"2023122518","v":2.45},{"r":"2023121712","t":"2023122600","v":2.65},{"r":"2023121712","t":"2023122606","v":2.9},{"r":"2023121712","t":"2023122612","v":3.12},{"r":"2023121712","t":"2023122618","v":3.22},{"r":"2023121712","t":"2023122700","v":3.15},{"r":"2023121712","t":"2023122706","v":2.97},{"r":"2023121712","t":"2023122712","v":2.84},
{"r":"2023121800","t":"2023121800","v":0.35},{"r":"2023121800","t":"2023121806","v":0.38},{"r":"2023121800","t":"2023121812","v":0.28},{"r":"2023121800","t":"2023121818","v":0.18},{"r":"2023121800","t":"2023121900","v":0.1},{"r":"2023121800","t":"2023121906","v":0.05},{"r":"2023121800","t":"2023121912","v":0.03},{"r":"2023121800","t":"2023121918","v":0.03},{"r":"2023121800","t":"2023122000","v":0.04},{"r":"2023121800","t":"2023122006","v":0.05},{"r":"2023121800","t":"2023122012","v":0.06},{"r":"2023121800","t":"2023122018","v":0.07},{"r":"2023121800","t":"2023122100","v":0.08},{"r":"2023121800","t":"2023122106","v":0.1},{"r":"2023121800","t":"2023122112","v":0.13},{"r":"2023121800","t":"2023122118","v":0.16},{"r":"2023121800","t":"2023122200","v":0.2},{"r":"2023121800","t":"2023122206","v":0.26},{"r":"2023121800","t":"2023122212","v":0.34},{"r":"2023121800","t":"2023122218","v":0.44},{"r":"2023121800","t":"2023122300","v":0.55},{"r":"2023121800","t":"2023122306","v":0.68},{"r":"2023121800","t":"2023122312","v":0.82},{"r":"2023121800","t":"2023122318","v":0.98},{"r":"2023121800","t":"2023122400","v":1.16},{"r":"2023121800","t":"2023122406","v":1.36},{"r":"2023121800","t":"2023122412","v":1.56},{"r":"2023121800","t":"2023122418","v":1.76},{"r":"2023121800","t":"2023122500","v":1.95},{"r":"2023121800","t":"2023122506","v":2.15},{"r":"2023121800","t":"2023122512","v":2.35},{"r":"2023121800","t":"2023122518","v":2.55},{"r":"2023121800","t":"2023122600","v":2.7},{"r":"2023121800","t":"2023122606","v":2.8},{"r":"2023121800","t":"2023122612","v":2.92},{"r":"2023121800","t":"2023122618","v":3.0},{"r":"2023121800","t":"2023122700","v":2.92},{"r":"2023121800","t":"2023122706","v":2.8},{"r":"2023121800","t":"2023122712","v":2.68},{"r":"2023121800","t":"2023122718","v":2.56},{"r":"2023121800","t":"2023122800","v":2.5}
],
"latest":[
{"r":"2023121812","t":"2023121812","v":0.17},{"r":"2023121812","t":"2023121818","v":0.08},{"r":"2023121812","t":"2023121900","v":-0.01},{"r":"2023121812","t":"2023121906","v":-0.1},{"r":"2023121812","t":"2023121912","v":-0.15},{"r":"2023121812","t":"2023121918","v":-0.15},{"r":"2023121812","t":"2023122000","v":-0.13},{"r":"2023121812","t":"2023122006","v":-0.1},{"r":"2023121812","t":"2023122012","v":-0.02},{"r":"2023121812","t":"2023122018","v":0.06},{"r":"2023121812","t":"2023122100","v":0.12},{"r":"2023121812","t":"2023122106","v":0.17},{"r":"2023121812","t":"2023122112","v":0.28},{"r":"2023121812","t":"2023122118","v":0.45},{"r":"2023121812","t":"2023122200","v":0.56},{"r":"2023121812","t":"2023122206","v":0.65},{"r":"2023121812","t":"2023122212","v":0.76},{"r":"2023121812","t":"2023122218","v":0.85},{"r":"2023121812","t":"2023122300","v":0.93},{"r":"2023121812","t":"2023122306","v":1.02},{"r":"2023121812","t":"2023122312","v":1.16},{"r":"2023121812","t":"2023122318","v":1.36},{"r":"2023121812","t":"2023122400","v":1.58},{"r":"2023121812","t":"2023122406","v":1.82},{"r":"2023121812","t":"2023122412","v":2.04},{"r":"2023121812","t":"2023122418","v":2.22},{"r":"2023121812","t":"2023122500","v":2.42},{"r":"2023121812","t":"2023122506","v":2.6},{"r":"2023121812","t":"2023122512","v":2.69},{"r":"2023121812","t":"2023122518","v":2.72},{"r":"2023121812","t":"2023122600","v":2.72},{"r":"2023121812","t":"2023122606","v":2.72},{"r":"2023121812","t":"2023122612","v":2.68},{"r":"2023121812","t":"2023122618","v":2.6},{"r":"2023121812","t":"2023122700","v":2.47},{"r":"2023121812","t":"2023122706","v":2.37},{"r":"2023121812","t":"2023122712","v":2.31},{"r":"2023121812","t":"2023122718","v":2.37},{"r":"2023121812","t":"2023122800","v":2.45},{"r":"2023121812","t":"2023122806","v":2.52},{"r":"2023121812","t":"2023122812","v":2.5}
]
},
"layer":[
{
"data":{"name":"grey","format":{"parse":{"t":"utc:'%Y%m%d%H'"}}},
"mark":{"type":"point","shape":"circle","filled":false,"size":100,"stroke":"#83919b","strokeWidth":1.3,"opacity":1,"clip":true},
"encoding":{
"x":{"field":"t","type":"temporal","scale":{"type":"utc","nice":false,"domain":[{"year":2023,"month":12,"date":8,"hours":18,"utc":true},{"year":2024,"month":1,"date":2,"hours":18,"utc":true}]},
"axis":{"orient":"bottom","values":[{"year":2023,"month":12,"date":9,"utc":true},{"year":2023,"month":12,"date":11,"utc":true},{"year":2023,"month":12,"date":13,"utc":true},{"year":2023,"month":12,"date":15,"utc":true},{"year":2023,"month":12,"date":17,"utc":true},{"year":2023,"month":12,"date":19,"utc":true},{"year":2023,"month":12,"date":21,"utc":true},{"year":2023,"month":12,"date":23,"utc":true},{"year":2023,"month":12,"date":25,"utc":true},{"year":2023,"month":12,"date":27,"utc":true},{"year":2023,"month":12,"date":29,"utc":true},{"year":2023,"month":12,"date":31,"utc":true},{"year":2024,"month":1,"date":1,"utc":true},{"year":2024,"month":1,"date":2,"utc":true}],
"labelExpr":"(utcdate(datum.value)==31 || (utcmonth(datum.value)==0 && utcdate(datum.value)==2)) ? '' : ((utcdate(datum.value)==9 || utcmonth(datum.value)==0) ? [upper(utcFormat(datum.value,'%-d%b')), utcFormat(datum.value,'%Y')] : upper(utcFormat(datum.value,'%-d%b')))",
"grid":true,"gridColor":"#b0b0b0","gridDash":[2,6],"gridWidth":1,
"gridOpacity":{"condition":{"test":"utcmonth(datum.value)==0 && utcdate(datum.value)==1","value":0},"value":1},
"domain":false,"ticks":true,"tickSize":5,"tickColor":"#000","tickWidth":1,
"tickOpacity":{"condition":{"test":"utcdate(datum.value)==31 || (utcmonth(datum.value)==0 && utcdate(datum.value)==2)","value":0},"value":1},
"labelFont":"DejaVu Sans Condensed, DejaVu Sans","labelFontWeight":"bold","labelFontSize":17,"labelColor":"#000","labelPadding":3,"labelLineHeight":19,"labelOverlap":false,"labelFlush":false,
"title":"Personal use only according to our TOS (pf4816g0U003s819)","titleX":936,"titleY":56,"titleAlign":"right","titleBaseline":"alphabetic","titleFont":"DejaVu Sans Condensed, DejaVu Sans","titleFontSize":10.3,"titleFontWeight":"normal","titleColor":"#777"}},
"y":{"field":"v","type":"quantitative","scale":{"domain":[-5,5],"nice":false,"zero":false},
"axis":{"orient":"left","values":[-5,-4,-3,-2,-1,0,1,2,3,4,5],"grid":true,"gridColor":"#b0b0b0","gridDash":[2,6],"gridWidth":1,
"gridOpacity":{"condition":{"test":"abs(datum.value)==5","value":0},"value":1},
"domain":false,"ticks":true,"tickSize":5,"tickColor":"#000","labelFont":"DejaVu Sans Condensed, DejaVu Sans","labelFontWeight":"bold","labelFontSize":18,"labelColor":"#000","labelPadding":4,
"title":"Updated for 2023121812","titleAngle":0,"titleX":1,"titleY":-9,"titleAlign":"left","titleBaseline":"alphabetic","titleFont":"DejaVu Sans","titleFontSize":13,"titleFontWeight":"bold","titleColor":"#000"}}
}
},
{
"data":{"values":[{}]},
"mark":{"type":"rule","color":"#000","strokeWidth":3},
"encoding":{"y":{"datum":0,"type":"quantitative","axis":null}}
},
{
"data":{"name":"runs","format":{"parse":{"t":"utc:'%Y%m%d%H'"}}},
"mark":{"type":"point","shape":"circle","filled":false,"size":100,"strokeWidth":1.5,"opacity":1},
"encoding":{
"x":{"field":"t","type":"temporal","axis":{"orient":"top","labels":false,"ticks":false,"domain":false,"grid":false,"title":"ECMWF HRES | Pacific North American Pattern [PNA] Forecast","titleX":1,"titleY":-24,"titleAlign":"left","titleBaseline":"alphabetic","titleFont":"DejaVu Sans","titleFontSize":16.8,"titleFontWeight":"bold","titleColor":"#000"}},
"y":{"field":"v","type":"quantitative","axis":{"orient":"right","labels":false,"ticks":false,"domain":false,"grid":false,"title":"Analysis PNA Blue Line","titleAngle":0,"titleX":-734,"titleY":-9,"titleAlign":"left","titleBaseline":"alphabetic","titleFont":"DejaVu Sans","titleFontSize":13,"titleFontWeight":"bold","titleColor":"#3656e0"}},
"stroke":{"field":"r","type":"nominal","scale":{"domain":["2023121500","2023121512","2023121600","2023121612","2023121700","2023121712","2023121800","2023121812"],"range":["#e8812f","#d13b2b","#a0181b","#96e696","#3dbb3d","#4d9fe6","#7a5bc9","#000000"]},
"legend":{"orient":"none","legendX":854,"legendY":5,"direction":"vertical","title":null,"symbolSize":0,"symbolStrokeWidth":0,"symbolOpacity":0,"labelOffset":0,"rowPadding":0.7,"padding":0,"labelFont":"DejaVu Sans Condensed, DejaVu Sans","labelFontWeight":"bold","labelFontSize":12,"labelColor":{"expr":"scale('stroke', datum.value)"}}}
}
},
{
"data":{"name":"analysis","format":{"parse":{"t":"utc:'%Y%m%d%H'"}}},
"mark":{"type":"line","color":"#2f52e0","strokeWidth":2.5,"interpolate":"monotone"},
"encoding":{"x":{"field":"t","type":"temporal","axis":null},"y":{"field":"v","type":"quantitative","axis":null}}
},
{
"data":{"name":"latest","format":{"parse":{"t":"utc:'%Y%m%d%H'"}}},
"mark":{"type":"point","shape":"circle","filled":true,"fill":"#fff","stroke":"#000","strokeWidth":1.3,"size":290,"opacity":1},
"encoding":{"x":{"field":"t","type":"temporal","axis":null},"y":{"field":"v","type":"quantitative","axis":null}}
}
],
"resolve":{"axis":{"x":"independent","y":"independent"}}
}
